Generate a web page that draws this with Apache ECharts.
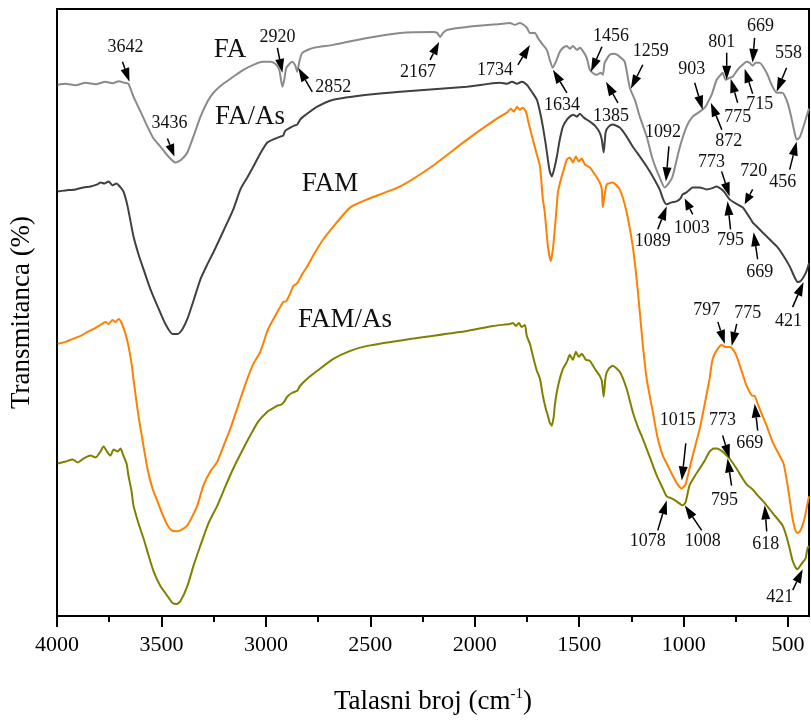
<!DOCTYPE html>
<html>
<head>
<meta charset="utf-8">
<script src="https://cdn.jsdelivr.net/npm/echarts@6/dist/echarts.min.js"></script>
<style>
  html, body { margin: 0; padding: 0; background: #fff; }
  #chart { width: 811px; height: 720px; }
</style>
</head>
<body>
<div id="chart"></div>
<script>
// x axis tick labels (wavenumber, cm-1) and minor ticks
const tickLabels = [4000, 3500, 3000, 2500, 2000, 1500, 1000, 500]
const minorTicks = [3750, 3250, 2750, 2250, 1750, 1250, 750]
const seriesNames = ['FA', 'FA/As', 'FAM', 'FAM/As']

// spectra as [wavenumber, transmittance (arbitrary offset units)]
const faData = [
  [3997,53.3],[3959,53.4],[3911,53.25],[3863,53.5],[3815,53.35],[3768,53.6],[3734,53.45],[3705,53.65],[3677,53.5],[3658,53.4],
  [3634,52.1],[3600,50.6],[3567,49.1],[3538,47.9],[3505,47.1],[3471,46.2],[3433,45.5],[3404,45.8],[3376,46.5],[3347,48.1],
  [3313,50.1],[3280,51.6],[3251,52.5],[3204,53.4],[3156,54.1],[3108,54.8],[3060,55.3],[3017,55.6],[2979,55.6],[2955,55.4],
  [2936,54.8],[2921,53.1],[2912,53.8],[2902,55.0],[2874,55.6],[2859,55.2],[2850,54.6],[2840,55.6],[2826,56.5],[2773,57.0],
  [2677,57.3],[2515,58.0],[2357,58.5],[2199,58.6],[2180,58.5],[2166,58.1],[2152,58.5],[2133,58.8],[2037,59.1],[1880,59.4],
  [1832,59.5],[1808,59.3],[1784,59.5],[1765,59.3],[1750,59.0],[1736,58.5],[1712,58.5],[1698,58.0],[1674,57.3],[1655,56.8],
  [1641,55.8],[1627,55.0],[1612,55.6],[1593,56.6],[1578,57.0],[1559,57.2],[1545,56.9],[1530,57.2],[1511,56.8],[1497,57.0],
  [1483,56.7],[1464,56.0],[1449,54.8],[1430,54.4],[1416,54.3],[1397,54.5],[1387,54.3],[1378,55.5],[1354,56.3],[1330,56.4],
  [1306,56.1],[1282,55.6],[1258,53.0],[1234,51.8],[1210,50.1],[1177,48.1],[1148,45.8],[1115,44.0],[1091,43.0],[1072,43.4],
  [1053,44.1],[1019,47.0],[986,49.1],[957,50.1],[923,50.6],[899,51.0],[885,51.5],[866,52.3],[842,53.8],[823,54.3],
  [814,54.5],[799,53.8],[780,54.0],[766,54.1],[742,54.8],[718,55.3],[699,55.6],[684,55.5],[670,55.2],[656,55.5],
  [637,55.5],[603,54.5],[579,53.3],[555,52.5],[527,52.5],[508,51.8],[493,50.8],[474,49.0],[459,47.8],[445,48.0],
  [431,48.8],[412,50.1],[400,50.9]
]
const faAsData = [
  [3997,42.6],[3959,42.7],[3911,42.8],[3873,43.0],[3839,43.1],[3806,43.3],[3792,43.5],[3773,43.4],[3753,43.6],[3734,43.2],
  [3715,43.4],[3696,43.0],[3682,42.6],[3662,41.1],[3634,38.1],[3610,36.3],[3586,34.8],[3553,32.8],[3519,31.1],[3481,29.3],
  [3447,28.3],[3423,28.3],[3399,28.8],[3376,29.8],[3347,31.6],[3313,33.8],[3280,35.3],[3251,36.5],[3204,38.6],[3156,40.8],
  [3122,42.8],[3089,44.0],[3060,45.1],[3027,46.4],[2993,47.5],[2955,47.9],[2931,48.1],[2917,48.2],[2907,48.7],[2883,49.0],
  [2864,49.2],[2850,49.3],[2836,49.8],[2821,50.1],[2754,51.1],[2677,51.8],[2515,52.3],[2357,52.6],[2037,53.1],[1880,53.5],
  [1846,53.4],[1822,53.6],[1798,53.4],[1775,53.6],[1751,53.3],[1727,52.6],[1703,51.8],[1688,50.6],[1674,49.1],[1660,47.3],
  [1650,45.8],[1641,44.6],[1631,44.1],[1617,45.1],[1607,46.1],[1593,47.8],[1578,49.1],[1559,49.8],[1545,50.1],[1530,50.3],
  [1511,50.1],[1497,50.4],[1478,50.0],[1449,49.6],[1425,49.2],[1402,48.5],[1392,47.8],[1383,46.5],[1373,48.6],[1359,49.1],
  [1340,49.3],[1306,49.0],[1273,48.1],[1244,47.1],[1210,46.1],[1177,45.1],[1148,44.1],[1115,42.8],[1096,41.7],[1081,41.3],
  [1058,41.5],[1034,41.6],[1015,41.9],[1005,42.3],[986,42.5],[957,43.0],[923,43.0],[890,42.8],[866,42.9],[842,43.1],
  [818,42.8],[804,42.5],[780,41.8],[751,41.4],[718,41.0],[694,40.3],[670,39.5],[656,39.2],[623,38.5],[589,37.8],
  [555,37.1],[527,36.3],[493,35.1],[469,34.0],[454,33.5],[440,33.6],[426,34.0],[412,34.6],[400,35.4]
]
const famData = [
  [3997,27.3],[3959,27.5],[3925,27.8],[3887,28.1],[3854,28.5],[3825,28.8],[3792,29.2],[3768,29.5],[3753,29.3],[3734,29.7],
  [3720,29.5],[3705,29.8],[3691,29.4],[3672,28.3],[3658,27.1],[3643,25.3],[3634,23.8],[3615,20.8],[3600,18.8],[3567,14.8],
  [3543,12.8],[3519,11.5],[3495,10.2],[3471,9.1],[3452,8.6],[3433,8.5],[3409,8.6],[3376,9.1],[3352,10.0],[3328,11.1],
  [3299,13.1],[3266,14.5],[3232,15.5],[3204,17.0],[3170,18.8],[3122,21.8],[3089,23.8],[3060,25.3],[3027,26.5],[2989,28.8],
  [2945,30.5],[2926,31.2],[2917,31.5],[2902,31.6],[2883,32.4],[2869,33.1],[2850,33.4],[2826,34.3],[2802,35.1],[2764,36.5],
  [2725,37.8],[2668,39.3],[2596,41.0],[2515,41.8],[2357,43.1],[2199,45.2],[2037,47.8],[1880,50.1],[1846,50.5],[1827,50.9],
  [1813,50.6],[1798,51.1],[1784,50.8],[1770,51.0],[1755,50.6],[1746,49.8],[1732,48.6],[1722,47.8],[1703,46.3],[1688,45.1],
  [1674,41.8],[1665,40.5],[1650,37.1],[1636,35.6],[1626,36.8],[1617,38.8],[1607,41.3],[1602,42.5],[1588,43.8],[1574,44.8],
  [1559,45.8],[1545,46.0],[1530,45.5],[1516,46.1],[1502,45.6],[1488,45.9],[1473,45.3],[1449,45.0],[1425,44.3],[1402,43.5],
  [1392,42.8],[1387,41.0],[1378,42.3],[1368,43.3],[1340,43.5],[1306,42.8],[1273,40.5],[1244,37.1],[1225,33.8],[1210,30.5],
  [1196,27.3],[1177,23.8],[1148,20.5],[1124,17.8],[1100,16.1],[1076,15.1],[1053,14.1],[1029,13.2],[1010,12.8],[991,13.2],
  [972,14.8],[948,16.8],[923,18.8],[899,21.3],[876,23.8],[861,25.8],[837,26.8],[818,27.2],[799,27.0],[780,27.0],
  [766,26.8],[747,26.1],[723,24.6],[699,23.1],[680,22.3],[670,22.1],[661,22.1],[646,21.3],[627,20.3],[603,19.1],
  [575,17.5],[541,16.1],[522,15.3],[508,13.8],[493,11.8],[479,9.8],[465,8.6],[455,8.3],[440,8.6],[421,9.8],
  [407,11.3],[400,12.0]
]
const famAsData = [
  [3997,15.3],[3959,15.5],[3925,15.7],[3901,15.4],[3873,15.8],[3839,16.1],[3815,15.9],[3792,16.5],[3777,17.0],[3758,16.4],
  [3744,16.1],[3729,16.7],[3710,16.5],[3696,16.8],[3682,16.1],[3667,15.3],[3658,14.1],[3643,12.5],[3634,11.1],[3610,9.3],
  [3586,7.8],[3562,6.1],[3538,4.5],[3505,3.0],[3471,2.0],[3447,1.3],[3428,1.2],[3409,1.5],[3376,3.0],[3347,5.0],
  [3313,7.1],[3275,9.3],[3232,11.1],[3194,13.0],[3156,14.8],[3113,16.6],[3075,18.1],[3037,19.5],[2993,20.5],[2969,20.8],
  [2945,21.1],[2926,21.2],[2912,21.5],[2898,22.0],[2874,22.4],[2850,22.6],[2836,23.1],[2802,23.8],[2754,24.6],[2677,25.8],
  [2596,26.6],[2515,27.1],[2310,27.8],[2037,28.6],[1912,29.1],[1832,29.3],[1817,29.4],[1803,29.1],[1789,29.4],[1775,29.0],
  [1760,29.2],[1751,28.1],[1736,27.3],[1722,26.1],[1703,24.6],[1688,23.8],[1674,22.1],[1660,20.8],[1650,20.1],[1641,19.4],
  [1631,19.1],[1622,20.0],[1617,21.1],[1607,22.5],[1593,23.8],[1578,24.8],[1559,25.5],[1545,26.2],[1530,25.7],[1516,26.5],
  [1502,26.0],[1488,26.3],[1468,25.7],[1449,25.6],[1425,24.8],[1402,24.1],[1392,23.6],[1383,22.0],[1373,24.1],[1359,24.8],
  [1340,25.1],[1306,24.5],[1273,22.8],[1244,20.5],[1220,19.0],[1196,17.8],[1163,16.0],[1129,14.1],[1100,12.8],[1081,12.0],
  [1058,11.8],[1034,11.5],[1005,11.1],[991,11.4],[972,13.1],[948,14.0],[923,14.8],[899,15.6],[876,16.5],[856,16.8],
  [842,16.8],[828,16.7],[814,16.5],[794,16.1],[780,15.8],[747,14.8],[718,13.8],[694,13.1],[675,12.8],[661,12.5],
  [646,12.1],[623,11.6],[603,11.1],[565,10.1],[527,9.1],[508,8.0],[493,6.8],[479,5.6],[465,4.9],[455,4.7],
  [440,5.1],[426,5.5],[416,5.8],[407,6.8],[400,7.0]
]

// peak annotations: label text, arrow tip wavenumber, arrow tip transmittance
const peakLabels = ['3642','3436','2920','2852','2167','1734','1634','1456','1385','1259','1092','903','872','801','775','715','669','558','456',
  '1089','1003','773','795','720','669','421',
  '797','775','1015','669',
  '773','795','1078','1008','618','421']
const peakWn = [3653,3438,2921,2845,2171,1736,1626,1444,1372,1253,1085,909,870,794,775,708,670,555,459,
  1081,995,780,790,708,665,426,
  803,770,1009,660,
  780,790,1081,995,612,430]
const peakT = [53.6,46.1,54.5,55.0,57.6,57.3,54.8,54.6,53.6,52.9,43.6,50.8,51.5,53.8,53.9,54.9,55.5,52.6,47.6,
  41.1,41.9,42.1,41.6,41.3,38.5,33.5,
  27.3,27.1,13.6,21.3,
  15.8,15.8,11.6,11.1,11.1,4.7]

// layout: [arrow tail dx, dy, text dx, dy] in px relative to the tip
const peakOffsets = [
  [-7,-20,-4,-34],[-7,-18,-5,-33],[-5,-25,-5,-36],[14,24,35,19],[-9,18,-21,30],[-12,20,-35,25],[14,23,9,35],
  [11,-25,20,-36],[12,21,5,35],[12,-24,20,-37],[3,-35,-3,-49],[-8,-27,-11,-40],[11,27,18,39],[0,-27,-5,-38],
  [7,24,7,38],[8,25,15,35],[2,-25,8,-37],[10,-24,12,-38],[-7,28,-14,41],
  [-9,23,-14,35],[8,16,7,30],[-8,-25,-18,-34],[3,28,3,39],[8,-15,9,-33],[4,27,6,40],[-11,25,-15,39],
  [-7,-22,-18,-34],[5,-22,16,-33],[4,-37,-4,-60],[3,27,-5,40],
  [-7,-23,-7,-38],[4,27,-3,42],[-9,30,-19,41],[17,25,18,36],[2,26,1,39],[-10,21,-23,28]
]

const colors = ['#8a8a8a', '#404040', '#ff8000', '#808000']
const serif = '"Liberation Serif", "Times New Roman", serif'

function renderPeak(params, api) {
  const i = params.dataIndex
  const tip = api.coord([api.value(0), api.value(1)])
  const o = peakOffsets[i]
  const tail = [tip[0] + o[0], tip[1] + o[1]]
  const dx = tip[0] - tail[0], dy = tip[1] - tail[1]
  const len = Math.hypot(dx, dy) || 1
  const ux = dx / len, uy = dy / len
  const headL = Math.min(14, len * 0.65), headW = 4.5
  const base = [tip[0] - ux * headL, tip[1] - uy * headL]
  return {
    type: 'group',
    children: [
      { type: 'line', shape: { x1: tail[0], y1: tail[1], x2: base[0], y2: base[1] },
        style: { stroke: '#000', lineWidth: 1.5 } },
      { type: 'polygon', shape: { points: [tip,
          [base[0] - uy * headW, base[1] + ux * headW],
          [base[0] + uy * headW, base[1] - ux * headW]] },
        style: { fill: '#000' } },
      { type: 'text', x: tip[0] + o[2], y: tip[1] + o[3],
        style: { text: peakLabels[i], font: '18px ' + serif, fill: '#111', align: 'center', verticalAlign: 'middle' } },
    ],
  }
}

const chart = echarts.init(document.getElementById('chart'), null, { renderer: 'canvas' })

const spectra = [faData, faAsData, famData, famAsData]

chart.setOption({
  animation: false,
  grid: { left: 57, right: 2, top: 9, bottom: 102, show: true, borderColor: '#000', borderWidth: 2, backgroundColor: 'transparent' },
  xAxis: [{
    type: 'value', min: 400, max: 4000, inverse: true,
    name: 'Talasni broj (cm{sup|-1})', nameLocation: 'middle', nameGap: 71,
    nameTextStyle: {
      fontFamily: serif, fontSize: 27, color: '#000',
      rich: { sup: { fontFamily: serif, fontSize: 15, color: '#000', padding: [0, 0, 14, 0] } },
    },
    axisLine: { lineStyle: { color: '#000', width: 2 } },
    axisTick: { customValues: tickLabels, length: 11, lineStyle: { color: '#000', width: 2 } },
    axisLabel: { customValues: tickLabels, formatter: v => String(v), margin: 18, fontFamily: serif, fontSize: 22, color: '#000' },
    splitLine: { show: false },
  }, {
    type: 'value', min: 400, max: 4000, inverse: true, position: 'bottom',
    axisLine: { show: false },
    axisTick: { customValues: minorTicks, length: 6, lineStyle: { color: '#000', width: 2 } },
    axisLabel: { show: false },
    splitLine: { show: false },
  }],
  yAxis: {
    type: 'value', min: 0, max: 60.9,
    name: 'Transmitanca (%)', nameLocation: 'middle', nameGap: 22,
    nameTextStyle: { fontFamily: serif, fontSize: 27, color: '#000' },
    axisLine: { show: false }, axisTick: { show: false }, axisLabel: { show: false },
    splitLine: { show: false },
  },
  graphic: [
    { type: 'text', x: 230, y: 50, style: { text: seriesNames[0], font: '27px ' + serif, fill: '#111', align: 'center', verticalAlign: 'middle' } },
    { type: 'text', x: 250, y: 117, style: { text: seriesNames[1], font: '27px ' + serif, fill: '#111', align: 'center', verticalAlign: 'middle' } },
    { type: 'text', x: 330, y: 184, style: { text: seriesNames[2], font: '27px ' + serif, fill: '#111', align: 'center', verticalAlign: 'middle' } },
    { type: 'text', x: 345, y: 320, style: { text: seriesNames[3], font: '27px ' + serif, fill: '#111', align: 'center', verticalAlign: 'middle' } },
  ],
  series: [
    ...spectra.map((d, k) => ({
      name: seriesNames[k], type: 'line', data: d, xAxisIndex: 0,
      showSymbol: false, smooth: 0.2, clip: true,
      lineStyle: { color: colors[k], width: 2 },
    })),
    {
      type: 'custom', xAxisIndex: 0, clip: false, z: 5,
      renderItem: renderPeak,
      data: peakWn.map((w, i) => [w, peakT[i]]),
    },
  ],
})
</script>
</body>
</html>
